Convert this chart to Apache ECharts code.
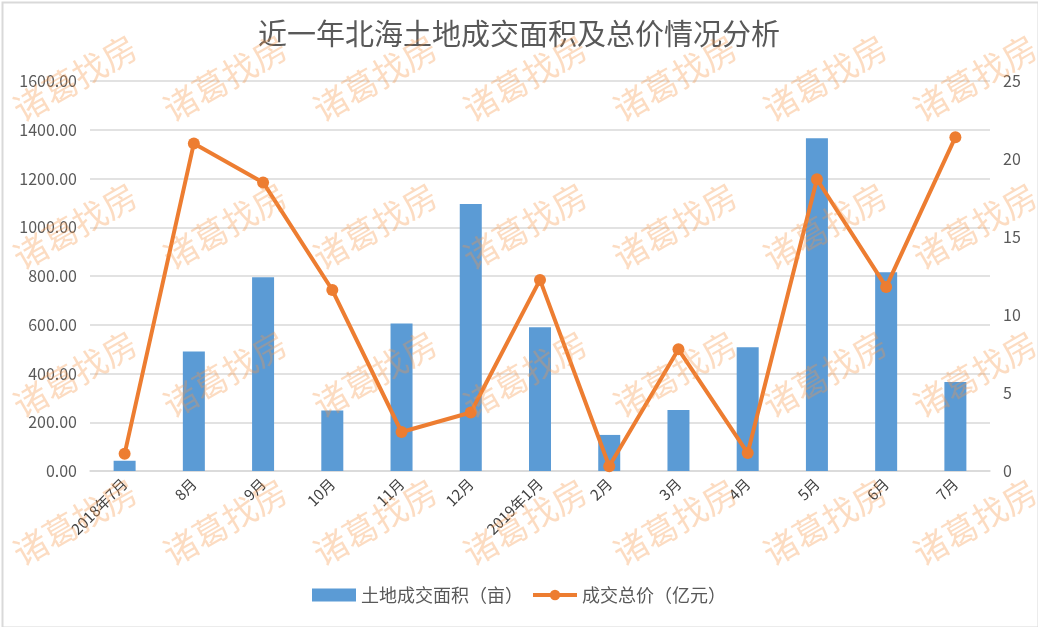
<!DOCTYPE html>
<html>
<head>
<meta charset="utf-8">
<script src="https://cdn.jsdelivr.net/npm/echarts@6/dist/echarts.min.js"></script>
<style>html,body{margin:0;padding:0;background:#fff}#c{width:1038px;height:627px}</style>
</head>
<body>
<div id="c"></div>
<script>
var categories = ['2018年7月','8月','9月','10月','11月','12月','2019年1月','2月','3月','4月','5月','6月','7月'];
var areaValues = [42, 490, 795, 248, 605, 1095, 590, 148, 250, 508, 1365, 815, 365];
var priceValues = [1.1, 21.0, 18.5, 11.6, 2.5, 3.75, 12.25, 0.3, 7.8, 1.15, 18.7, 11.8, 21.4];
var seriesNames = ['土地成交面积（亩）', '成交总价（亿元）'];
var titleText = '近一年北海土地成交面积及总价情况分析';
var watermarkText = '诸葛找房';

var FONT = '"Noto Sans CJK SC", "Noto Sans", sans-serif';
var graphics = [{
  type: 'rect', left: 0, top: 0, z: 100, silent: true,
  shape: {x: 1, y: 1, width: 1036, height: 625},
  style: {fill: 'none', stroke: '#d9d9d9', lineWidth: 2}
}];
for (var j = 0; j < 4; j++) {
  for (var i = 0; i < 7; i++) {
    graphics.push({
      type: 'text', x: 75 + 150 * i, y: 78 + 148 * j, rotation: Math.PI / 6, z: 100, silent: true,
      style: {text: watermarkText, x: 0, y: 0, textAlign: 'center', textVerticalAlign: 'middle',
              fontSize: 34, fontFamily: FONT, fill: 'rgba(247,150,70,0.33)'}
    });
  }
}

var chart = echarts.init(document.getElementById('c'));
chart.setOption({
  animation: false,
  backgroundColor: '#fff',
  title: {
    text: titleText, left: 'center', top: 14,
    textStyle: {fontFamily: FONT, fontSize: 29, fontWeight: 'normal', color: '#595959'}
  },
  legend: {
    bottom: 18, left: 'center', itemGap: 8,
    itemWidth: 44, itemHeight: 13,
    textStyle: {fontFamily: FONT, fontSize: 18, color: '#595959'},
    data: [
      {name: seriesNames[0], icon: 'rect'},
      {name: seriesNames[1], lineStyle: {width: 4, color: '#ED7D31'}, itemStyle: {color: '#ED7D31'}}
    ]
  },
  grid: {left: 90, right: 48, top: 81, bottom: 156, containLabel: false},
  xAxis: {
    type: 'category', data: categories,
    axisLine: {lineStyle: {color: '#d9d9d9', width: 1.5}},
    axisTick: {show: false},
    axisLabel: {rotate: 45, interval: 0, margin: 10, fontFamily: FONT, fontSize: 15, color: '#404040'}
  },
  yAxis: [{
    type: 'value', min: 0, max: 1600, interval: 200,
    axisLine: {show: false}, axisTick: {show: false},
    axisLabel: {margin: 13, fontFamily: FONT, fontSize: 16, color: '#595959',
      formatter: function (v) { return v.toFixed(2); }},
    splitLine: {lineStyle: {color: '#d9d9d9', width: 1.5}}
  }, {
    type: 'value', min: 0, max: 25, interval: 5,
    axisLine: {show: false}, axisTick: {show: false},
    axisLabel: {margin: 13, fontFamily: FONT, fontSize: 16, color: '#595959'},
    splitLine: {show: false}
  }],
  series: [{
    name: seriesNames[0], type: 'bar', data: areaValues, barWidth: 22,
    itemStyle: {color: '#5B9BD5'}
  }, {
    name: seriesNames[1], type: 'line', yAxisIndex: 1, data: priceValues,
    symbol: 'circle', symbolSize: 12,
    lineStyle: {color: '#ED7D31', width: 4},
    itemStyle: {color: '#ED7D31'}
  }],
  graphic: graphics
});
</script>
</body>
</html>
